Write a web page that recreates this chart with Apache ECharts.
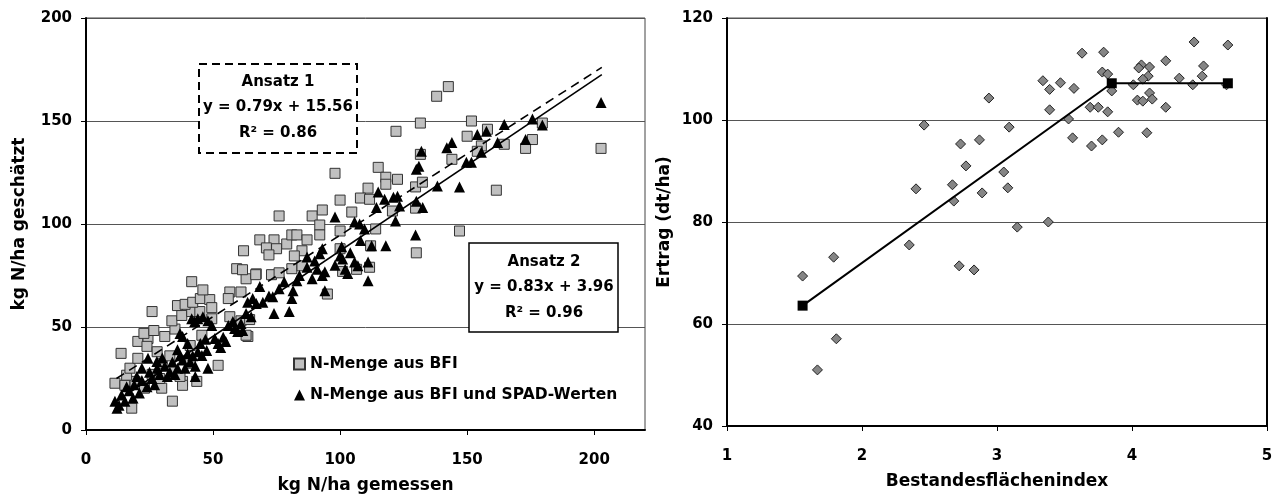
<!DOCTYPE html>
<html>
<head>
<meta charset="utf-8">
<script src="https://cdn.jsdelivr.net/npm/echarts@6/dist/echarts.min.js"></script>
<style>
  html, body { margin: 0; padding: 0; background: #fff; }
  #main { width: 1282px; height: 499px; }
</style>
</head>
<body>
<div id="main"></div>
<script>
// linkes Diagramm: N-Menge gemessen (x) gegen geschaetzt (y)
var bfiPoints = [
  [11.4,22.7],[15.3,21.7],[19.3,23.6],[23,20.3],[16,26.6],[17.3,30],[20.4,34.8],[13.8,37.2],
  [20.4,43],[24.4,44.4],[24,40.6],[22.8,46.9],[26.7,48.3],[31,45.4],[35,49],[33.8,53],
  [37.7,55.6],[41.6,57.5],[44.8,57.5],[26,57.5],[36,60.4],[39,61],[42,62],[45,63.8],
  [48.7,63.3],[49.5,59.4],[49.5,54],[41.6,72],[46,68],[56.6,67],[61,67],[56,63.8],
  [59.3,78.3],[63,73.4],[67,75.8],[62,87],[56.6,55],[59.3,50.7],[63.7,45.4],[45.6,46],
  [41,41],[52,31.4],[43.6,23.6],[38,23.6],[38,21.7],[29.8,20.3],[34,14],[18,10.6],
  [34,28.5],[37,26],[41,32.4],[30,32.4],[28,38],[33,36],[26,27],[29,25],
  [61.6,77.8],[66.8,75.4],[73,75.4],[76,76.3],[81,78.3],[85,79.7],[68.4,92.3],[74,92.3],
  [71,88.4],[75,88],[79,90.3],[72,85],[85,87],[82,84.5],[81,94.7],[83,94.7],[87,92.3],
  [76,103.9],[89,103.9],[93,106.8],[92,99.5],[100,96.6],[114,97.6],[100,88],[112,89.4],
  [101,77],[106.5,78],[111.6,79],[95,66],[61,53],[64.4,53.6],[63,46],[98,124.6],[115,127.5],
  [118,122.7],[122.6,121.7],[118,119.3],[111,117.4],[108,112.6],[111.6,112],[100,111.6],
  [104.6,105.8],[120.6,106.3],[92,94.7],[129.7,118],[132.4,120.3],[131.6,133.8],[122,145],
  [131.6,149],[130,86],[129.7,107.7],[147,96.6],[161.5,116.4],
  [142.6,166.7],[138,162],[151.7,150],[158,146],[179.6,149],[150,142.6],[155.6,137.9],
  [164.6,138.7],[173,136.7],[175.7,141],[202.7,136.7],[144,131.4],[154,135.3]
];
var spadPoints = [
  [12.2,10.6],[11.4,14],[15.3,14],[18.5,15.5],[14,17],[17,19],[21,18],[19,22],[22,24],
  [24,21],[16,21],[13,12],[26,25],[25,28],[27,22],[28,30],[24.4,34.8],[27.9,33.3],[22,30],
  [29,27],[20,26],
  [31,31],[33,28],[30,35],[34,33],[36,30],[37,36],[38,34],[39,30],[40,37],[41,33],[42,36],
  [43,31],[45.6,36.2],[44,38],[47.5,38.6],[32,26],[35,27],[37,46.9],[38,45.4],[41.6,54],
  [42.8,52.7],[44,54],[46,55],[48,53],[49.5,50.7],[50.7,44.4],[52,42],[47,44],[45,42],
  [40,42],[36,39],[48,30],[43,26],
  [56,50.7],[57.8,52.7],[58.5,49.3],[59.7,47.8],[61.7,48.3],[63.6,62],[65.6,63.8],[67,61.4],
  [65,55],[63,56.5],[61,51.7],[68.4,69.6],[69.6,62],[54,45],[53,40],[55,43],
  [72,65],[73.5,64.7],[74,56.5],[76,68.6],[78,72],[80,57.5],[81,63.8],[81.5,67.6],[83,72.5],
  [84,75],[87,84],[89,73.4],[92,85.5],[93,75],[93,88],[94,76.8],[94,67.6],[87,79],[90,82],
  [91,78],
  [98,103.4],[100,84.5],[101,83],[100.6,88.9],[105.7,81.6],[107,79.7],[105.7,101],[107.7,100],
  [109.6,97.6],[111,81.6],[111,72.5],[112.4,89.4],[114.3,108],[115,115.5],[117.5,112],[121,113],
  [118,89.4],[121.8,101.4],[122.6,113.5],[123.4,108.7],[102,78],[98,80],[104,86],[108,92],[103,76],
  [129.7,94.7],[130,111],[132.5,108],[130,126.6],[131,128],[132,135.3],[138.3,118.4],[147,118],
  [142,137],[144,139.6],[149.7,130],[151.7,130],[154,143.5],[155.6,134.8],[157.6,145],
  [162,139.6],[164.6,148.3],[173,141],[175.7,151],[179.6,148],[202.7,159]
];
// Regressionsgeraden (Endpunkte aus der Abbildung)
var trendAnsatz1 = [[12, 25.0], [203, 176.0]];
var trendAnsatz2 = [[11, 13.1], [203, 172.5]];

// rechtes Diagramm: Ertrag gegen Bestandesflaechenindex
var yieldPoints = [
  [2.46,99],[2.73,95.3],[2.77,91],[2.40,86.5],[2.67,87.3],[2.68,84.1],[2.35,75.5],[4.46,115.3],
  [4.71,114.7],[3.63,113.1],[3.79,113.3],[4.25,111.6],[4.07,110.8],[4.13,110.4],[4.05,110.2],
  [4.53,110.6],[3.78,109.4],[3.82,109],[4.52,108.6],[4.12,108.6],[4.08,108],[4.35,108.2],
  [3.34,107.7],[3.47,107.3],[3.39,106],[3.57,106.2],[4.01,106.9],[4.45,106.9],[4.70,106.9],
  [3.85,105.7],[4.13,105.3],[2.94,104.3],[4.04,103.9],[4.08,103.7],[4.15,104.1],[3.69,102.5],
  [3.75,102.5],[3.82,101.6],[4.25,102.5],[3.39,102],[3.53,100.2],[3.09,98.6],[3.56,96.5],
  [3.90,97.6],[4.11,97.5],[3.78,96.1],[3.70,94.9],[2.87,96.1],[3.05,89.8],[3.08,86.7],
  [2.89,85.7],[3.15,79],[3.38,80],[1.56,69.4],[1.79,73.1],[2.72,71.4],[1.81,57.1],[1.67,51],
  [2.83,70.6]
];
var plateauLine = [[1.56, 63.6], [3.85, 107.2], [4.71, 107.2]];

var FONT = 'DejaVu Sans';
var labelStyle = { color: '#000', fontFamily: FONT, fontWeight: 'bold', fontSize: 15 };
var nameStyle = { color: '#000', fontFamily: FONT, fontWeight: 'bold', fontSize: 17 };

function valueAxis(opt) {
  var ax = {
    type: 'value',
    gridIndex: opt.grid,
    min: opt.min, max: opt.max, interval: opt.interval,
    name: opt.name, nameLocation: 'middle', nameGap: opt.nameGap,
    nameTextStyle: nameStyle,
    axisLine: { show: true, onZero: false, lineStyle: { color: '#000', width: 2 } },
    axisTick: { show: true, inside: false, length: 5, lineStyle: { color: '#000', width: 1 } },
    axisLabel: Object.assign({ margin: opt.margin, showMaxLabel: opt.showMax !== false }, labelStyle),
    splitLine: { show: opt.split, lineStyle: { color: '#555', width: 1 } }
  };
  return ax;
}

var myChart = echarts.init(document.getElementById('main'));

var option = {
  animation: false,
  backgroundColor: '#fff',
  grid: [
    { left: 86, top: 18, width: 559, height: 414, show: true, borderColor: '#444', borderWidth: 1, backgroundColor: 'transparent' },
    { left: 727, top: 18, width: 540, height: 408, show: true, borderColor: '#555', borderWidth: 1, backgroundColor: 'transparent' }
  ],
  xAxis: [
    valueAxis({ grid: 0, min: 0, max: 220, interval: 50, name: 'kg N/ha gemessen', nameGap: 47, margin: 23, split: false, showMax: false }),
    valueAxis({ grid: 1, min: 1, max: 5, interval: 1, name: 'Bestandesflächenindex', nameGap: 47, margin: 23, split: false })
  ],
  yAxis: [
    valueAxis({ grid: 0, min: 0, max: 200, interval: 50, name: 'kg N/ha geschätzt', nameGap: 58, margin: 14, split: true }),
    valueAxis({ grid: 1, min: 40, max: 120, interval: 20, name: 'Ertrag (dt/ha)', nameGap: 54, margin: 14, split: true }),
    {
      type: 'value', gridIndex: 1, position: 'right', min: 40, max: 120, interval: 20,
      axisLine: { show: true, lineStyle: { color: '#000', width: 2 } },
      axisTick: { show: false }, axisLabel: { show: false }, splitLine: { show: false }
    }
  ],
  legend: {
    data: ['N-Menge aus BFI', 'N-Menge aus BFI und SPAD-Werten'],
    orient: 'vertical',
    left: 288,
    top: 351,
    itemWidth: 11,
    itemHeight: 11,
    itemGap: 15,
    textStyle: { color: '#000', fontFamily: FONT, fontWeight: 'bold', fontSize: 15.5 }
  },
  series: [
    {
      name: 'N-Menge aus BFI', type: 'scatter', xAxisIndex: 0, yAxisIndex: 0,
      symbol: 'rect', symbolSize: 10, data: bfiPoints, z: 2,
      itemStyle: { color: '#c0c0c0', borderColor: '#333', borderWidth: 1, opacity: 1 }
    },
    {
      name: 'N-Menge aus BFI und SPAD-Werten', type: 'scatter', xAxisIndex: 0, yAxisIndex: 0,
      symbol: 'triangle', symbolSize: 11, data: spadPoints, z: 3,
      itemStyle: { color: '#000', opacity: 1 }
    },
    {
      name: 'Ansatz 1', type: 'line', xAxisIndex: 0, yAxisIndex: 0, data: trendAnsatz1,
      showSymbol: false, silent: true, z: 4,
      lineStyle: { color: '#000', width: 1.6, type: [9, 6] }
    },
    {
      name: 'Ansatz 2', type: 'line', xAxisIndex: 0, yAxisIndex: 0, data: trendAnsatz2,
      showSymbol: false, silent: true, z: 4,
      lineStyle: { color: '#000', width: 1.6 }
    },
    {
      name: 'Ertrag', type: 'scatter', xAxisIndex: 1, yAxisIndex: 1,
      symbol: 'diamond', symbolSize: 10, data: yieldPoints, z: 2,
      itemStyle: { color: '#858585', borderColor: '#222', borderWidth: 1, opacity: 1 }
    },
    {
      name: 'Plateau', type: 'line', xAxisIndex: 1, yAxisIndex: 1, data: plateauLine,
      symbol: 'rect', symbolSize: 10, showSymbol: true, z: 4,
      itemStyle: { color: '#000' },
      lineStyle: { color: '#000', width: 2 }
    }
  ],
  graphic: [
    {
      type: 'rect', z: 10, shape: { x: 199, y: 64, width: 158, height: 89 },
      style: { fill: '#fff', stroke: '#000', lineWidth: 2, lineDash: [8, 5] }
    },
    { type: 'text', z: 11, x: 278, y: 82, style: { text: 'Ansatz 1', align: 'center', verticalAlign: 'middle', fill: '#000', fontFamily: FONT, fontWeight: 'bold', fontSize: 15 } },
    { type: 'text', z: 11, x: 278, y: 107, style: { text: 'y = 0.79x + 15.56', align: 'center', verticalAlign: 'middle', fill: '#000', fontFamily: FONT, fontWeight: 'bold', fontSize: 15 } },
    { type: 'text', z: 11, x: 278, y: 133, style: { text: 'R² = 0.86', align: 'center', verticalAlign: 'middle', fill: '#000', fontFamily: FONT, fontWeight: 'bold', fontSize: 15 } },
    {
      type: 'rect', z: 10, shape: { x: 469, y: 243, width: 149, height: 89 },
      style: { fill: '#fff', stroke: '#000', lineWidth: 1.5 }
    },
    { type: 'text', z: 11, x: 544, y: 262, style: { text: 'Ansatz 2', align: 'center', verticalAlign: 'middle', fill: '#000', fontFamily: FONT, fontWeight: 'bold', fontSize: 15 } },
    { type: 'text', z: 11, x: 544, y: 287, style: { text: 'y = 0.83x + 3.96', align: 'center', verticalAlign: 'middle', fill: '#000', fontFamily: FONT, fontWeight: 'bold', fontSize: 15 } },
    { type: 'text', z: 11, x: 544, y: 313, style: { text: 'R² = 0.96', align: 'center', verticalAlign: 'middle', fill: '#000', fontFamily: FONT, fontWeight: 'bold', fontSize: 15 } }
  ]
};
myChart.setOption(option);
</script>
</body>
</html>
